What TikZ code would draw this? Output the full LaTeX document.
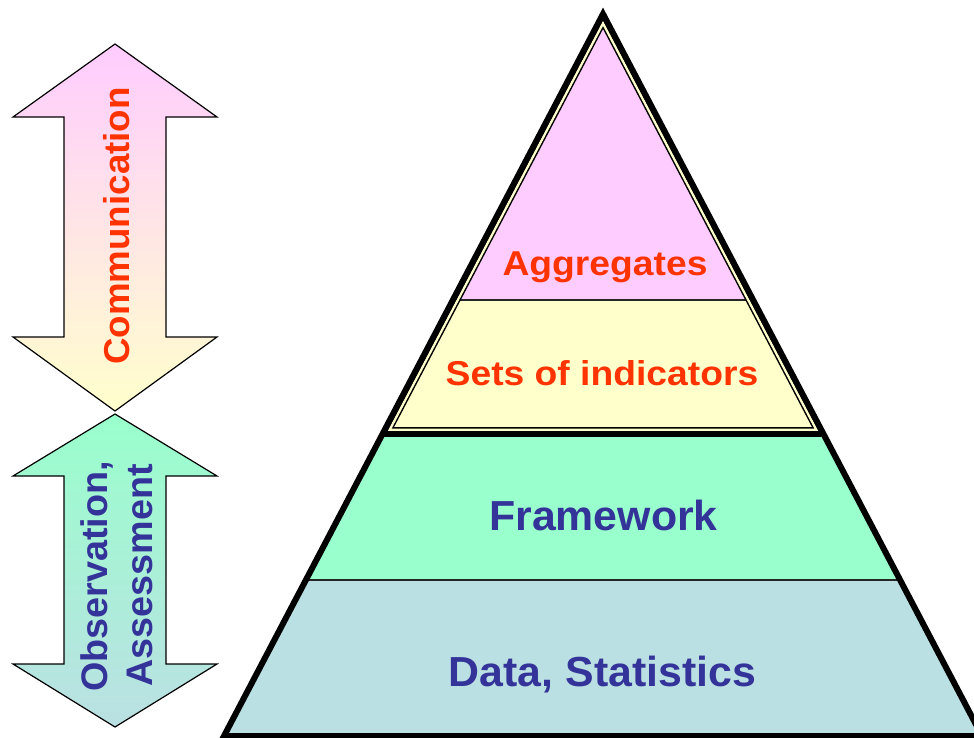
\documentclass[tikz,border=0pt]{standalone}
\usepackage{fontspec}
\setmainfont{Liberation Sans}
\newfontfamily\fred{Liberation Sans}[FakeStretch=1.08]
\newfontfamily\fblue{Liberation Sans}[FakeStretch=1.02]
\definecolor{pinkA}{HTML}{FFCCFF}
\definecolor{yellowA}{HTML}{FFFFCC}
\definecolor{greenA}{HTML}{99FFCC}
\definecolor{blueA}{HTML}{BBE0E3}
\definecolor{redT}{HTML}{FF3300}
\definecolor{blueT}{HTML}{333399}
\tikzset{
  redtxt/.style={text=redT, font=\fred\bfseries\fontsize{34.5}{40}\selectfont, inner sep=0pt},
  bluetxt/.style={text=blueT, font=\fblue\bfseries\fontsize{42}{48}\selectfont, inner sep=0pt},
  commtxt/.style={text=redT, font=\fblue\bfseries\fontsize{36}{42}\selectfont, inner sep=0pt, rotate=90, anchor=base},
  obstxt/.style={text=blueT, font=\fblue\bfseries\fontsize{37}{45}\selectfont, inner sep=0pt, rotate=90, anchor=base},
  thinline/.style={draw=black!85, line width=1.5pt},
  arrowshape/.style={draw=black, line width=1.2pt, line join=miter},
}
\begin{document}
\begin{tikzpicture}[x=1pt,y=-1pt]
\useasboundingbox (0,0) rectangle (974,738);
% pyramid geometry
\coordinate (apex) at (603,14);
\coordinate (bl) at (224,736);
\coordinate (br) at (982,736);
\coordinate (tl) at (382.5,434);
\coordinate (tr) at (823.5,434);
\coordinate (ml) at (305.9,580);
\coordinate (mr) at (900.2,580);
\coordinate (sl) at (452.9,300);
\coordinate (sr) at (753.2,300);
% bands
\begin{scope}
  \clip (apex) -- (bl) -- (br) -- cycle;
  \fill[pinkA] (0,0) rectangle (990,300);
  \fill[yellowA] (0,300) rectangle (990,434);
  \fill[greenA] (0,434) rectangle (990,580);
  \fill[blueA] (0,580) rectangle (990,745);
\end{scope}
\draw[thinline] (ml) -- (mr);
% top triangle with double inner border
\begin{scope}
  \clip (apex) -- (tl) -- (tr) -- cycle;
  \draw[thinline] (sl) -- (sr);
  \draw[black, line width=14pt, line join=miter] (apex) -- (tl) -- (tr) -- cycle;
  \draw[yellowA, line width=11pt, line join=miter] (apex) -- (tl) -- (tr) -- cycle;
  \draw[black, line width=6pt, line join=miter] (apex) -- (tl) -- (tr) -- cycle;
\end{scope}
% outer thick border
\draw[black, line width=6pt, line join=miter] (apex) -- (bl) -- (br) -- cycle;
\draw[black, line width=6pt] (tl) -- (tr);
% pyramid labels
\node[redtxt, anchor=base] (agg) at (605,275) {Aggregates};
\node[redtxt, anchor=base] (sets) at (602,385) {Sets of indicators};
\node[bluetxt, anchor=base] (frame) at (603.5,530) {Framework};
\node[bluetxt, anchor=base] (data) at (602.5,686.5) {Data, Statistics};
% left arrows
\path[arrowshape, top color=pinkA, bottom color=yellowA]
  (115,44) -- (217,117) -- (166,117) -- (166,337) -- (217,337) -- (115,411)
  -- (13,337) -- (64,337) -- (64,117) -- (13,117) -- cycle;
\path[arrowshape, top color=greenA, bottom color=blueA]
  (115,414) -- (217,476) -- (166,476) -- (166,664) -- (217,664) -- (115,727)
  -- (13,664) -- (64,664) -- (64,476) -- (13,476) -- cycle;
\node[commtxt] (comm) at (129,226) {Communication};
\node[obstxt] (obs) at (107,576.5) {Observation,};
\node[obstxt] (ass) at (152,575.5) {Assessment};
\end{tikzpicture}
\end{document}
